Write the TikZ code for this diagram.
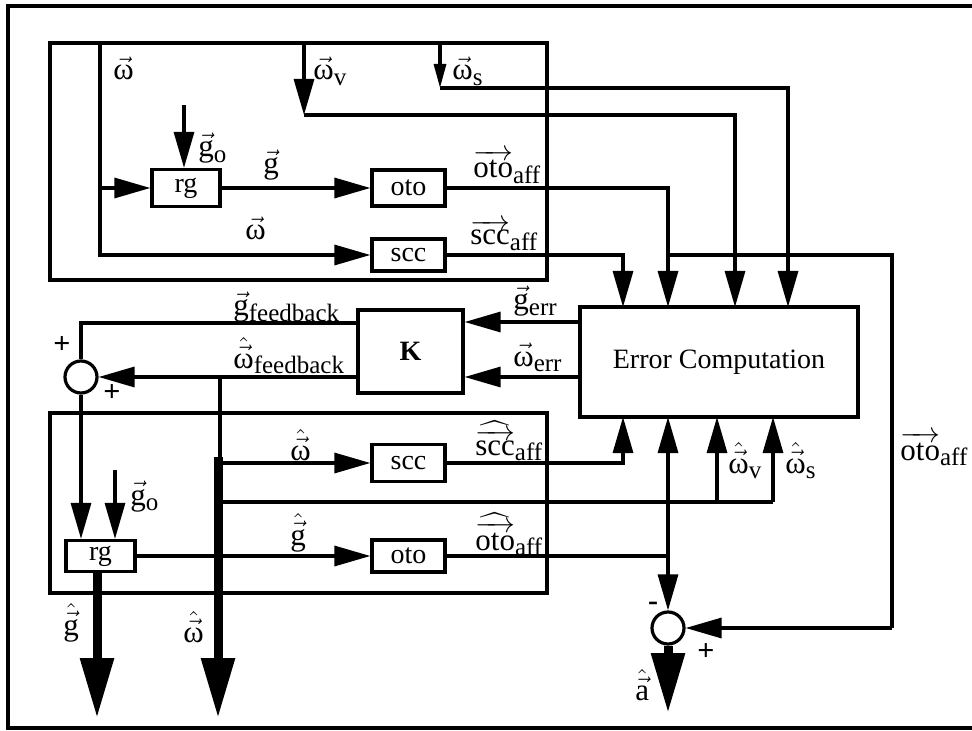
\documentclass[tikz,border=0pt]{standalone}
\usepackage{amsmath}
\usepackage{fontspec}
\setmainfont{Liberation Serif}
\usetikzlibrary{arrows.meta}
\newcommand{\subf}{\fontsize{12.5}{12.5}\selectfont}
% single letter with vector arrow, optional subscript
\newcommand{\vl}[2]{$\vec{\text{#1}}$\raisebox{-0.4ex}{\subf #2}}
% single letter with hat over vector arrow
\newcommand{\hvl}[2]{$\hat{\vec{\text{#1}}}$\raisebox{-0.4ex}{\subf #2}}
% word with long vector arrow
\newcommand{\wvl}[2]{$\overrightarrow{\text{#1}}$\raisebox{-0.4ex}{\subf #2}}
% word with wide hat over long vector arrow
\newcommand{\hwvl}[2]{$\widehat{\overrightarrow{\text{#1}}}$\raisebox{-0.4ex}{\subf #2}}
\tikzset{
  ln/.style={line width=1.6pt},
  blk/.style={draw, line width=1.6pt, rectangle, inner sep=0pt},
  arr/.style={ln, -{Triangle[length=18pt,width=10pt]}},
  sarr/.style={ln, -{Triangle[length=12pt,width=6pt]}},
  barr/.style={line width=4.5pt, -{Triangle[length=30pt,width=16pt]}},
  sumc/.style={draw, circle, line width=1.6pt, minimum size=16pt, inner sep=0pt},
  lab/.style={inner sep=0pt, anchor=base west, font=\fontsize{15.5}{17}\selectfont},
  sgn/.style={inner sep=0pt, font=\fontsize{15}{16}\selectfont\bfseries},
}
\begin{document}
\begin{tikzpicture}[x=0.5pt,y=-0.5pt, every node/.style={font=\fontsize{14}{16}\selectfont}]
\useasboundingbox (0,0) rectangle (972,731);
% outer frame
\draw[ln] (990,6) -- (8,6) -- (8,728) -- (990,728);
% blocks
\draw[ln] (50,43) rectangle (547,280);
\draw[ln] (50,413) rectangle (547,593);
% nodes
\node[blk, minimum width=34pt, minimum height=18.5pt] (rg1) at (186,188) {rg};
\node[blk, minimum width=36.5pt, minimum height=18pt] (oto1) at (408.5,188) {oto};
\node[blk, minimum width=36.5pt, minimum height=16pt] (scc1) at (408.5,255) {scc};
\node[blk, minimum width=52.5pt, minimum height=41.5pt] (K) at (410.5,351.5) {\textbf{K}};
\node[blk, minimum width=139pt, minimum height=55pt] (EC) at (719,362) {Error Computation};
\node[blk, minimum width=36.5pt, minimum height=18.5pt] (scc2) at (408.5,463) {scc};
\node[blk, minimum width=36.5pt, minimum height=16pt] (oto2) at (408.5,556) {oto};
\node[blk, minimum width=34.5pt, minimum height=15.5pt] (rg2) at (100.5,556) {rg};
\node[sumc] (s1) at (81,377) {};
\node[sumc] (s2) at (668,628) {};
% coordinates
\coordinate (wtop) at (100,43);
\coordinate (wj) at (100,188);
\coordinate (go1) at (184,105);
\coordinate (wvtop) at (304,43);
\coordinate (wvc) at (304,115);
\coordinate (wstop) at (440,43);
\coordinate (wsc) at (440,88);
\coordinate (ecA) at (623,307);
\coordinate (ecB) at (668,307);
\coordinate (ecC) at (735,307);
\coordinate (ecD) at (788,307);
\coordinate (ecE) at (623,417);
\coordinate (ecF) at (668,417);
\coordinate (ecG) at (717,417);
\coordinate (ecH) at (773,417);
\coordinate (br) at (668,255);
\coordinate (wfbj) at (220,377);
\coordinate (bartop) at (218,457);
\coordinate (barbot) at (218,718);
\coordinate (j1) at (220,463);
\coordinate (j2) at (220,502);
\coordinate (j3) at (717,502);
\coordinate (j4) at (773,502);
\coordinate (j5) at (668,556);
\coordinate (go2) at (115,470);
\coordinate (gbot) at (97,718);
\coordinate (abot) at (668,713);
% upper block connectors
\draw[arr] (wtop) |- (scc1.west);
\draw[arr] (wj) -- (rg1.west);
\draw[arr] (go1) -- (go1 |- rg1.north);
\draw[arr] (rg1.east) -- (oto1.west);
\draw[arr] (wvtop) -- (wvc);
\draw[arr] (wvc) -| (ecC);
\draw[sarr] (wstop) -- (wsc);
\draw[arr] (wsc) -| (ecD);
\draw[arr] (oto1.east) -| (ecB);
\draw[arr] (scc1.east) -| (ecA);
\draw[ln] (br) -| (892,628);
\draw[arr] (892,628) -- (s2.east);
% K and feedback
\draw[arr] (EC.west |- 0,322) -- (K.east |- 0,322);
\draw[arr] (EC.west |- 0,377) -- (K.east |- 0,377);
\draw[ln] (K.west |- 0,323) -| (s1.north);
\draw[arr] (K.west |- 0,377) -- (s1.east);
\draw[ln] (wfbj) -- (220,457);
\draw[barr] (bartop) -- (barbot);
% lower block connectors
\draw[arr] (j1) -- (scc2.west);
\draw[ln] (j2) -- (j4);
\draw[arr] (j3) -- (ecG);
\draw[arr] (j4) -- (ecH);
\draw[arr] (s1.south) -- (s1.south |- rg2.north);
\draw[arr] (go2) -- (go2 |- rg2.north);
\draw[barr] (rg2.south -| 97,0) -- (gbot);
\draw[arr] (rg2.east) -- (oto2.west);
\draw[arr] (scc2.east) -| (ecE);
\draw[ln] (oto2.east) -- (j5);
\draw[arr] (j5) -- (ecF);
\draw[arr] (j5) -- (s2.north);
\draw[barr] (s2.south) -- (abot);
% labels (anchored at base west)
\node[lab] (lw1) at (113,80) {\vl{ω}{}};
\node[lab] (lwv) at (313,80) {\vl{ω}{v}};
\node[lab] (lws) at (452,80) {\vl{ω}{s}};
\node[lab] (lgo1) at (198,157) {\vl{g}{o}};
\node[lab] (lg1) at (263,174) {\vl{g}{}};
\node[lab] (lw2) at (245,240) {\vl{ω}{}};
\node[lab] (loto1) at (473,178) {\wvl{oto}{aff}};
\node[lab] (lscc1) at (470,245) {\wvl{scc}{aff}};
\node[lab] (lgerr) at (513,310) {\vl{g}{err}};
\node[lab] (lwerr) at (513,366) {\vl{ω}{err}};
\node[lab] (lgfb) at (233,316) {\vl{g}{feedback}};
\node[lab] (lwfb) at (233,368) {\hvl{ω}{feedback}};
\node[lab] (lw3) at (290,460) {\hvl{ω}{}};
\node[lab] (lscc2) at (475,455) {\hwvl{scc}{aff}};
\node[lab] (lg3) at (290,545) {\hvl{g}{}};
\node[lab] (loto2) at (475,550) {\hwvl{oto}{aff}};
\node[lab] (lgo2) at (130,505) {\vl{g}{o}};
\node[lab] (lg4) at (63,635) {\hvl{g}{}};
\node[lab] (lw4) at (183,642) {\hvl{ω}{}};
\node[lab] (lwv2) at (728,473) {\hvl{ω}{v}};
\node[lab] (lws2) at (785,473) {\hvl{ω}{s}};
\node[lab] (loto3) at (900,460) {\wvl{oto}{aff}};
\node[lab] (la) at (635,700) {\hvl{a}{}};
\node[sgn] (p1) at (62,345) {+};
\node[sgn] (p2) at (112,393) {+};
\node[sgn] (m1) at (653,606) {-};
\node[sgn] (p3) at (706,652) {+};
\end{tikzpicture}
\end{document}
